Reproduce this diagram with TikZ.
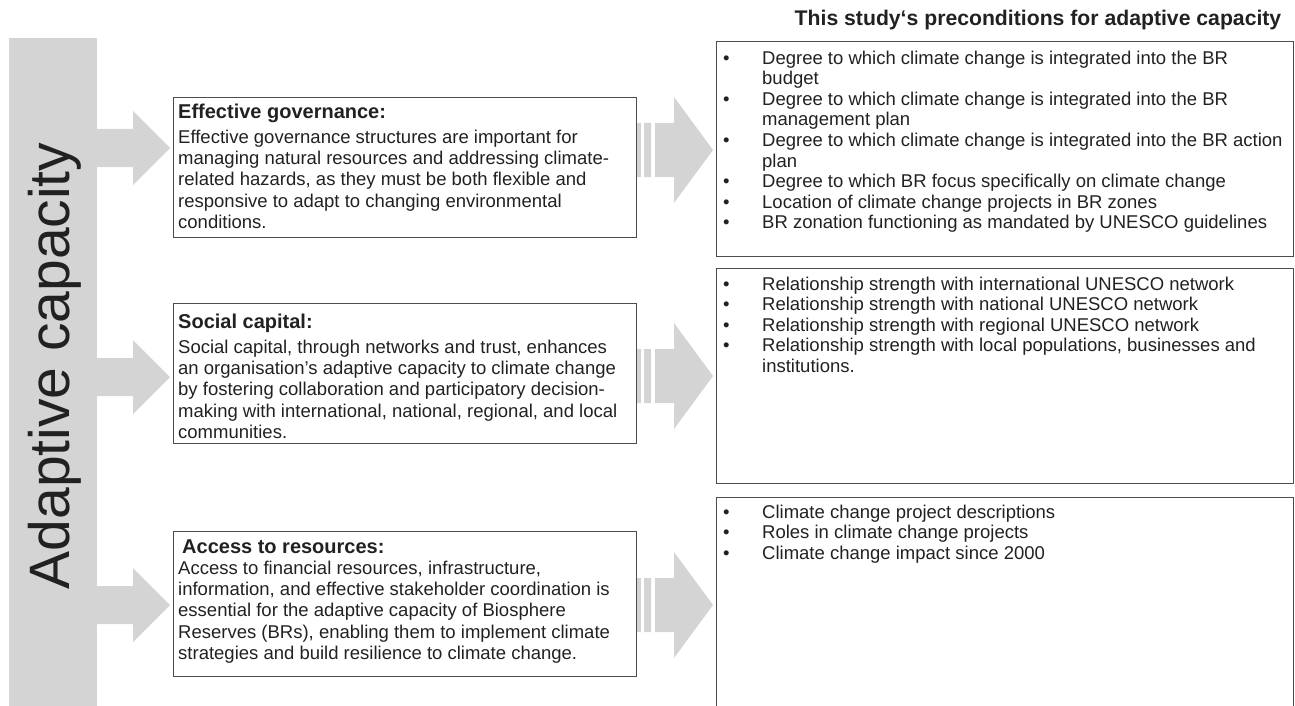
\documentclass[tikz,border=0pt]{standalone}
\usepackage{fontspec}
\setmainfont{Liberation Sans}

\definecolor{arrowgray}{gray}{0.83}
\definecolor{framegray}{gray}{0.3}
\definecolor{inkgray}{gray}{0.13}

\tikzset{
  frame/.style={draw=framegray, line width=1.3pt, anchor=north west, inner sep=0pt},
  head/.style={anchor=base west, inner sep=0pt, font=\fontsize{20}{24}\selectfont\bfseries},
  body/.style={anchor=north west, inner sep=0pt, align=left, font=\fontsize{18.5}{21.3}\selectfont},
  list/.style={anchor=north west, inner sep=0pt, align=left, font=\fontsize{18.5}{20.6}\selectfont},
}

\def\bul{\makebox[39pt][l]{\textbullet}}
\def\ind{\hspace*{39pt}}

\begin{document}
\begin{tikzpicture}[x=1pt, y=-1pt, text=inkgray]

\useasboundingbox (0,0) rectangle (1295,706);

\def\sidearrow#1{(97,#1-19) -- (133,#1-19) -- (133,#1-37) -- (170,#1) -- (133,#1+37) -- (133,#1+19) -- (97,#1+19) -- cycle}
\def\midarrow#1{(655,#1-27) -- (674,#1-27) -- (674,#1-53) -- (713,#1) -- (674,#1+53) -- (674,#1+27) -- (655,#1+27) -- cycle
  (637,#1-27) rectangle (641,#1+27) (644,#1-27) rectangle (651,#1+27)}

% grey bar with the three arrows
\fill[arrowgray] (9,38) rectangle (97,706);
\fill[arrowgray] \sidearrow{148};
\fill[arrowgray] \sidearrow{377};
\fill[arrowgray] \sidearrow{605};
\node[rotate=90, font=\fontsize{57}{60}\selectfont] (adapt) at (55,366) {Adaptive capacity};

% left boxes
\node[frame, minimum width=463pt, minimum height=140pt] (gov) at (173,97) {};
\node[frame, minimum width=463pt, minimum height=140pt] (soc) at (173,303) {};
\node[frame, minimum width=463pt, minimum height=145pt] (res) at (173,531) {};

\node[head] at ([xshift=5pt, yshift=-21pt]gov.north west) {Effective governance:};
\node[body] at ([xshift=5pt, yshift=-32.5pt]gov.north west) {Effective governance structures are important for\\
managing natural resources and addressing climate-\\
related hazards, as they must be both flexible and\\
responsive to adapt to changing environmental\\
conditions.};

\node[head] at ([xshift=5pt, yshift=-25pt]soc.north west) {Social capital:};
\node[body] at ([xshift=5pt, yshift=-36.5pt]soc.north west) {Social capital, through networks and trust, enhances\\
an organisation’s adaptive capacity to climate change\\
by fostering collaboration and participatory decision-\\
making with international, national, regional, and local\\
communities.};

\node[head] at ([xshift=9pt, yshift=-22pt]res.north west) {Access to resources:};
\node[body] at ([xshift=5pt, yshift=-29.5pt]res.north west) {Access to financial resources, infrastructure,\\
information, and effective stakeholder coordination is\\
essential for the adaptive capacity of Biosphere\\
Reserves (BRs), enabling them to implement climate\\
strategies and build resilience to climate change.};

% striped arrows
\fill[arrowgray] \midarrow{150};
\fill[arrowgray] \midarrow{376};
\fill[arrowgray] \midarrow{605};

% right boxes
\node[font=\fontsize{21.2}{24}\selectfont\bfseries] (title) at (1038,20) {This study‘s preconditions for adaptive capacity};

\node[frame, minimum width=577pt, minimum height=215pt] (crit1) at (716,41) {};
\node[frame, minimum width=577pt, minimum height=215pt] (crit2) at (716,268) {};
\node[frame, minimum width=577pt, minimum height=240pt] (crit3) at (716,497) {};

\node[list] at ([xshift=7pt, yshift=-9.5pt]crit1.north west) {\bul Degree to which climate change is integrated into the BR\\
\ind budget\\
\bul Degree to which climate change is integrated into the BR\\
\ind management plan\\
\bul Degree to which climate change is integrated into the BR action\\
\ind plan\\
\bul Degree to which BR focus specifically on climate change\\
\bul Location of climate change projects in BR zones\\
\bul BR zonation functioning as mandated by UNESCO guidelines};

\node[list] at ([xshift=7pt, yshift=-8.5pt]crit2.north west) {\bul Relationship strength with international UNESCO network\\
\bul Relationship strength with national UNESCO network\\
\bul Relationship strength with regional UNESCO network\\
\bul Relationship strength with local populations, businesses and\\
\ind institutions.};

\node[list] at ([xshift=7pt, yshift=-7.5pt]crit3.north west) {\bul Climate change project descriptions\\
\bul Roles in climate change projects\\
\bul Climate change impact since 2000};

\end{tikzpicture}
\end{document}
